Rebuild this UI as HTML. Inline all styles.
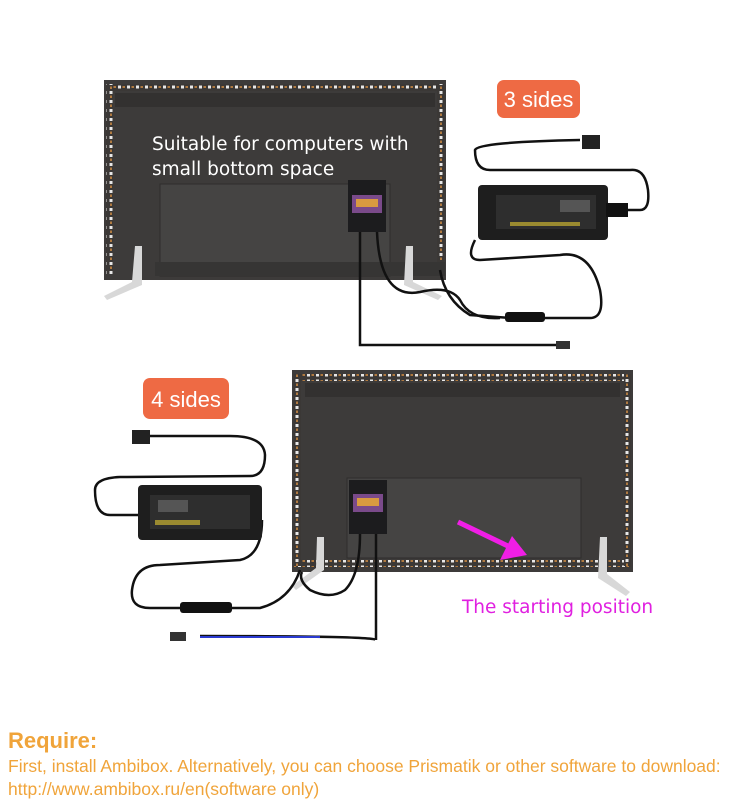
<!DOCTYPE html>
<html><head><meta charset="utf-8"><style>
html,body{margin:0;padding:0;background:#fff;width:738px;height:803px;overflow:hidden}
svg{position:absolute;left:0;top:0}
.t{position:absolute;font-family:"Liberation Sans",sans-serif;color:#f0a43a;white-space:nowrap}
</style></head><body>
<svg width="738" height="803" viewBox="0 0 738 803">
<defs>
<pattern id="ledh" x="0" y="0" width="9" height="6" patternUnits="userSpaceOnUse">
<rect width="9" height="6" fill="#3b3836"/><rect x="1" y="1.5" width="3" height="3" fill="#e8e8e8"/><rect x="5.5" y="2" width="2.5" height="2" fill="#b07a40"/></pattern>
<pattern id="ledv" x="0" y="0" width="6" height="9" patternUnits="userSpaceOnUse">
<rect width="6" height="9" fill="#3b3836"/><rect x="1.5" y="1" width="3" height="3" fill="#e8e8e8"/><rect x="2" y="5.5" width="2" height="2.5" fill="#b07a40"/></pattern>
</defs>
<!-- TV1 -->
<rect x="104" y="80" width="342" height="200" fill="#3d3b3a"/>
<rect x="106" y="84" width="338" height="7" fill="url(#ledh)"/>
<rect x="106" y="84" width="7" height="190" fill="url(#ledv)"/>
<rect x="437" y="84" width="7" height="190" fill="url(#ledv)"/>
<rect x="115" y="93" width="320" height="14" fill="#333130"/>
<rect x="160" y="184" width="230" height="92" fill="#454443" stroke="#2e2d2c"/>
<rect x="155" y="262" width="290" height="14" fill="#363534"/>
<rect x="348" y="180" width="38" height="52" fill="#1c1c1e"/>
<rect x="352" y="195" width="30" height="18" fill="#7a4a8a"/>
<rect x="356" y="199" width="22" height="8" fill="#d89a40"/>
<polygon points="135,246 142,246 142,285 107,300 104,296 132,282" fill="#d8d8d8"/>
<polygon points="406,246 413,246 413,282 442,296 438,300 404,285" fill="#d8d8d8"/>
<g fill="none" stroke="#111" stroke-width="2.5">
<path d="M360,232 V345 H560"/>
<path d="M377,232 Q380,300 420,292 Q450,285 460,300 Q470,320 500,318"/>
<path d="M440,270 Q445,300 470,315 L510,318"/>
<path d="M540,318 H590 Q605,318 600,290 Q590,250 560,255 L480,260 Q465,260 475,240"/>
<path d="M620,210 H640 Q650,210 648,190 Q645,168 630,170 L490,170 Q475,170 475,150 Q478,142 580,140"/>
</g>
<rect x="505" y="312" width="40" height="10" rx="3" fill="#111"/>
<rect x="556" y="341" width="14" height="8" fill="#333"/>
<rect x="582" y="135" width="18" height="14" fill="#222"/>
<rect x="478" y="185" width="130" height="55" rx="4" fill="#1e1e1e"/>
<rect x="496" y="195" width="100" height="34" fill="#2e2e2e"/>
<rect x="560" y="200" width="30" height="12" fill="#555"/>
<rect x="510" y="222" width="70" height="4" fill="#9a8a30"/>
<rect x="606" y="203" width="22" height="14" fill="#111"/>
<!-- 3 sides -->
<rect x="497" y="80" width="83" height="38" rx="7" fill="#ee6a44"/>
<text x="538.5" y="107" font-family="Liberation Sans,sans-serif" font-size="22" fill="#fff" text-anchor="middle">3 sides</text>
<text x="152" y="150" font-family="DejaVu Sans,sans-serif" font-size="18.5" fill="#fff">Suitable for computers with</text>
<text x="152" y="175" font-family="DejaVu Sans,sans-serif" font-size="18.5" fill="#fff">small bottom space</text>
<!-- TV2 -->
<rect x="292" y="370" width="341" height="202" fill="#3d3b3a"/>
<rect x="294" y="374" width="337" height="7" fill="url(#ledh)"/>
<rect x="294" y="560" width="337" height="7" fill="url(#ledh)"/>
<rect x="294" y="374" width="7" height="192" fill="url(#ledv)"/>
<rect x="624" y="374" width="7" height="192" fill="url(#ledv)"/>
<rect x="305" y="383" width="315" height="14" fill="#333130"/>
<rect x="347" y="478" width="234" height="80" fill="#454443" stroke="#2e2d2c"/>
<rect x="349" y="480" width="38" height="54" fill="#1c1c1e"/>
<rect x="353" y="494" width="30" height="18" fill="#7a4a8a"/>
<rect x="357" y="498" width="22" height="8" fill="#d89a40"/>
<polygon points="317,537 324,537 324,570 296,590 292,586 316,568" fill="#d8d8d8"/>
<polygon points="600,537 607,537 607,574 630,592 626,596 598,578" fill="#d8d8d8"/>
<g fill="none" stroke="#111" stroke-width="2.5">
<path d="M360,534 Q360,575 345,590 Q330,600 310,590 Q298,580 302,572"/>
<path d="M376,534 V640 Q376,636 200,636"/>
<path d="M300,570 Q290,600 260,608 L230,608"/>
<path d="M180,608 H150 Q130,608 132,590 Q135,565 160,565 L240,560 Q262,555 262,520"/>
<path d="M138,515 H110 Q95,515 95,490 Q95,478 120,477 L250,476 Q265,476 265,455 Q264,436 230,436 L150,436"/>
</g>
<rect x="180" y="602" width="52" height="11" rx="3" fill="#111"/>
<line x1="200" y1="637" x2="320" y2="637" stroke="#2a3ad0" stroke-width="2"/>
<rect x="170" y="632" width="16" height="9" fill="#333"/>
<rect x="132" y="430" width="18" height="14" fill="#222"/>
<rect x="138" y="485" width="124" height="55" rx="4" fill="#1e1e1e"/>
<rect x="150" y="495" width="100" height="34" fill="#2e2e2e"/>
<rect x="158" y="500" width="30" height="12" fill="#555"/>
<rect x="155" y="520" width="45" height="5" fill="#9a8a30"/>
<!-- arrow -->
<line x1="458" y1="522" x2="512" y2="548" stroke="#f01ee6" stroke-width="5"/>
<polygon points="527,555 500,560 512,536" fill="#f01ee6"/>
<!-- 4 sides -->
<rect x="143" y="378" width="86" height="41" rx="7" fill="#ee6a44"/>
<text x="186" y="407" font-family="Liberation Sans,sans-serif" font-size="22" fill="#fff" text-anchor="middle">4 sides</text>
<text x="462" y="613" font-family="DejaVu Sans,sans-serif" font-size="18.5" fill="#e020e0">The starting position</text>
</svg>
<div class="t" style="left:8px;top:728px;font-size:22px;font-weight:bold">Require:</div>
<div class="t" style="left:8px;top:756px;font-size:17.5px">First, install Ambibox. Alternatively, you can choose Prismatik or other software to download:</div>
<div class="t" style="left:8px;top:779px;font-size:17.5px">http://www.ambibox.ru/en(software only)</div>
</body></html>
